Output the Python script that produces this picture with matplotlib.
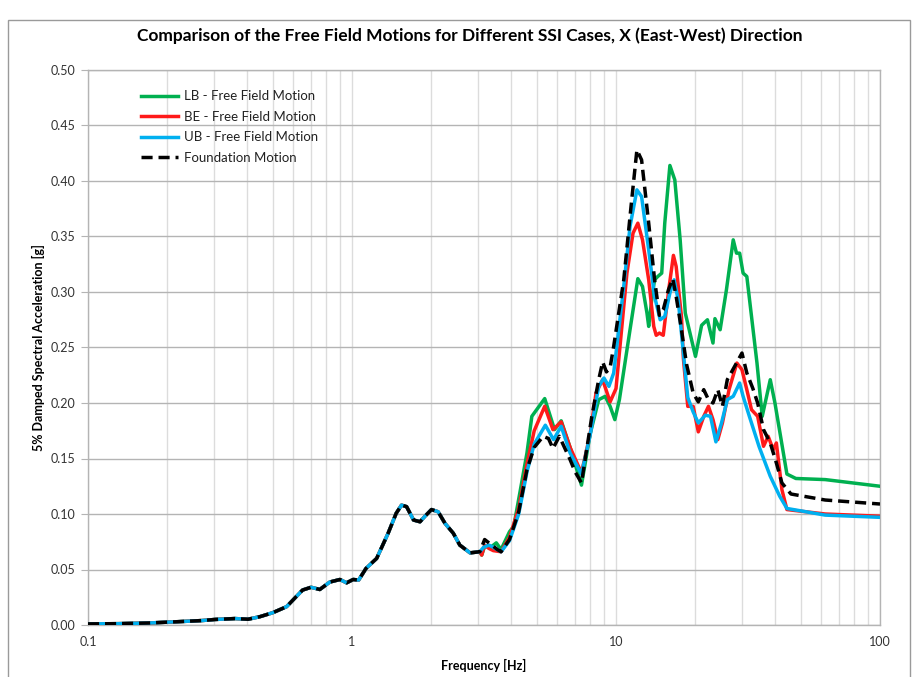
import numpy as np
import matplotlib
matplotlib.use("Agg")
import matplotlib.pyplot as plt
from matplotlib.patches import Rectangle
from matplotlib.ticker import FixedLocator, LogLocator, NullFormatter

plt.rcParams['font.family'] = ['Lato', 'DejaVu Sans']

# Response spectrum shared by all cases below ~3 Hz
freq_low = [0.1, 0.13, 0.17, 0.22, 0.27, 0.303, 0.36, 0.404, 0.448, 0.50, 0.565,
            0.65, 0.70, 0.755, 0.824, 0.90, 0.954, 1.01, 1.06, 1.13, 1.24, 1.37,
            1.47, 1.54, 1.61, 1.71, 1.81, 1.89, 2.0, 2.12, 2.25, 2.42, 2.56, 2.8]
sa_low = [0.001, 0.0012, 0.0018, 0.003, 0.004, 0.005, 0.0058, 0.0052, 0.0075, 0.011,
          0.0165, 0.0315, 0.034, 0.032, 0.0387, 0.041, 0.038, 0.041, 0.0405, 0.051,
          0.060, 0.0826, 0.1006, 0.108, 0.1066, 0.0946, 0.093, 0.098, 0.104, 0.102,
          0.0916, 0.0826, 0.072, 0.065]

# LB - Free Field Motion
freq_lb = [3.05, 3.1, 3.18, 3.35, 3.52, 3.67, 3.95, 4.1, 4.3, 4.6, 4.8, 5.37, 5.85,
           6.2, 6.7, 7.4, 7.98, 8.6, 9.1, 9.5, 9.9, 10.3, 11.3, 12.1, 12.6, 13.1,
           13.3, 13.7, 14.0, 14.4, 14.9, 15.3, 16.0, 16.7, 17.5, 18.3, 20.0, 21.1,
           22.2, 23.3, 23.7, 24.8, 26.2, 27.8, 28.6, 29.4, 30.3, 31.3, 34.2, 35.8,
           38.4, 40.0, 44.4, 48.0, 62.0, 100.0]
sa_lb = [0.066, 0.063, 0.071, 0.070, 0.074, 0.068, 0.084, 0.089, 0.116, 0.155, 0.188,
         0.204, 0.176, 0.184, 0.160, 0.126, 0.172, 0.203, 0.206, 0.197, 0.185, 0.203,
         0.266, 0.312, 0.305, 0.281, 0.269, 0.296, 0.311, 0.314, 0.317, 0.362, 0.414,
         0.401, 0.347, 0.281, 0.242, 0.270, 0.275, 0.254, 0.276, 0.266, 0.302, 0.347,
         0.335, 0.335, 0.317, 0.314, 0.236, 0.188, 0.221, 0.200, 0.136, 0.132, 0.131,
         0.125]

# BE - Free Field Motion
freq_be = [3.05, 3.1, 3.18, 3.3, 3.43, 3.67, 3.95, 4.28, 4.6, 4.9, 5.37, 5.77, 6.2,
           6.7, 7.4, 7.98, 8.4, 8.9, 9.5, 10.0, 11.0, 11.6, 12.1, 12.6, 13.3, 13.9,
           14.2, 14.6, 15.1, 15.9, 16.5, 16.9, 17.7, 18.0, 18.7, 19.6, 20.5, 21.5,
           22.4, 23.3, 24.3, 25.3, 26.8, 28.7, 30.0, 31.3, 32.6, 34.4, 36.2, 37.7,
           39.4, 40.5, 42.5, 44.4, 62.0, 100.0]
sa_be = [0.066, 0.063, 0.072, 0.069, 0.067, 0.066, 0.079, 0.105, 0.145, 0.175, 0.197,
         0.176, 0.183, 0.160, 0.137, 0.172, 0.209, 0.221, 0.201, 0.213, 0.317, 0.353,
         0.362, 0.347, 0.311, 0.269, 0.261, 0.263, 0.261, 0.305, 0.333, 0.323, 0.278,
         0.240, 0.197, 0.197, 0.174, 0.188, 0.197, 0.185, 0.167, 0.182, 0.212, 0.236,
         0.230, 0.212, 0.194, 0.188, 0.161, 0.170, 0.158, 0.164, 0.122, 0.104, 0.100,
         0.098]

# UB - Free Field Motion
freq_ub = [3.05, 3.15, 3.3, 3.43, 3.67, 3.95, 4.28, 4.6, 4.9, 5.4, 5.8, 6.2, 6.7,
           7.4, 7.98, 8.6, 9.0, 9.4, 9.8, 10.7, 11.3, 12.0, 12.5, 13.3, 14.0, 14.7,
           15.3, 16.0, 16.6, 17.2, 18.0, 18.7, 19.6, 20.5, 21.8, 22.8, 23.9, 25.1,
           26.4, 27.8, 29.4, 30.3, 32.0, 34.8, 38.4, 41.7, 44.4, 62.0, 100.0]
sa_ub = [0.066, 0.070, 0.072, 0.070, 0.066, 0.076, 0.100, 0.138, 0.163, 0.180, 0.167,
         0.179, 0.155, 0.136, 0.171, 0.215, 0.2225, 0.215, 0.227, 0.305, 0.359, 0.392,
         0.386, 0.338, 0.296, 0.275, 0.278, 0.299, 0.311, 0.293, 0.245, 0.205, 0.192,
         0.182, 0.189, 0.188, 0.165, 0.182, 0.203, 0.206, 0.218, 0.206, 0.188, 0.161,
         0.134, 0.116, 0.105, 0.099, 0.097]

# Foundation Motion
freq_fd = [3.05, 3.18, 3.3, 3.43, 3.55, 3.67, 3.95, 4.28, 4.6, 4.9, 5.3, 5.55, 5.77,
           6.1, 6.7, 7.0, 7.4, 8.1, 8.6, 8.9, 9.2, 9.5, 9.8, 10.7, 11.4, 12.0, 12.5,
           13.3, 14.0, 14.6, 15.1, 15.8, 16.4, 16.9, 17.7, 18.5, 19.6, 20.5, 21.5,
           22.4, 23.3, 24.3, 25.3, 26.4, 28.6, 30.0, 31.3, 33.0, 34.4, 36.2, 38.4,
           40.5, 42.5, 46.0, 62.0, 100.0]
sa_fd = [0.066, 0.077, 0.074, 0.071, 0.068, 0.066, 0.077, 0.102, 0.140, 0.160, 0.170,
         0.168, 0.159, 0.170, 0.149, 0.138, 0.128, 0.188, 0.221, 0.237, 0.228, 0.232,
         0.251, 0.311, 0.377, 0.428, 0.419, 0.362, 0.311, 0.279, 0.284, 0.302, 0.312,
         0.296, 0.266, 0.235, 0.209, 0.201, 0.212, 0.203, 0.200, 0.212, 0.197, 0.221,
         0.236, 0.245, 0.227, 0.213, 0.200, 0.176, 0.164, 0.146, 0.128, 0.118, 0.1126,
         0.109]

labels = ["LB - Free Field Motion", "BE - Free Field Motion",
          "UB - Free Field Motion", "Foundation Motion"]
y_ticks = [0.00, 0.05, 0.10, 0.15, 0.20, 0.25, 0.30, 0.35, 0.40, 0.45, 0.50]
x_ticks = [0.1, 1, 10, 100]
x_ticklabels = ["0.1", "1", "10", "100"]

W, H = 920, 677
fig = plt.figure(figsize=(W / 100, H / 100), dpi=100)
ax = fig.add_axes([88 / W, 1 - 625 / H, (880 - 88) / W, (625 - 70) / H])

# chart-area border
fig.patches.append(Rectangle((8 / W, -0.05), (910 - 8) / W, 1 - 20 / H + 0.05,
                             transform=fig.transFigure, fill=False,
                             edgecolor="#9a9a9a", linewidth=1.0))

lw = 2.5
ax.plot(freq_low + freq_lb, sa_low + sa_lb, color="#00b050", lw=lw,
        label=labels[0], zorder=3)
ax.plot(freq_low + freq_be, sa_low + sa_be, color="#ff1a1a", lw=lw,
        label=labels[1], zorder=4)
ax.plot(freq_low + freq_ub, sa_low + sa_ub, color="#00b0f0", lw=lw,
        label=labels[2], zorder=5)
ax.plot(freq_low + freq_fd, sa_low + sa_fd, color="black", lw=lw,
        linestyle=(0, (3.2, 1.7)), label=labels[3], zorder=6)

ax.set_xscale("log")
ax.set_xlim(0.1, 100)
ax.set_ylim(0, 0.5)
ax.xaxis.set_major_locator(FixedLocator(x_ticks))
ax.set_xticklabels(x_ticklabels)
ax.xaxis.set_minor_locator(LogLocator(base=10, subs=np.arange(2, 10)))
ax.xaxis.set_minor_formatter(NullFormatter())
ax.set_yticks(y_ticks)
ax.set_yticklabels([f"{v:.2f}" for v in y_ticks])

ax.grid(True, axis="y", which="major", color="#b4b4b4", lw=1.0, zorder=0)
ax.grid(True, axis="x", which="both", color="#dcdcdc", lw=1.0, zorder=0)
for s in ax.spines.values():
    s.set_color("#b4b4b4")
    s.set_linewidth(1.0)
ax.tick_params(axis="x", which="both", length=0, pad=8, labelsize=9,
               labelcolor="#333333")
ax.tick_params(axis="y", length=5, color="#b4b4b4", pad=4, labelsize=9,
               labelcolor="#333333")

ax.set_xlabel("Frequency [Hz]", fontsize=9, fontweight="bold", labelpad=8)
ax.set_ylabel("5% Damped Spectral Acceleration [g]", fontsize=9,
              fontweight="bold", labelpad=4)
fig.text(470 / W, 1 - 36 / H,
         "Comparison of the Free Field Motions for Different SSI Cases, X (East-West) Direction",
         ha="center", va="center", fontsize=12.5, fontweight="bold")

leg = ax.legend(loc="upper left", bbox_to_anchor=(136 / W, 1 - 85 / H),
                bbox_transform=fig.transFigure, frameon=False, fontsize=9.5,
                handlelength=2.8, handletextpad=0.4, labelspacing=0.64,
                borderaxespad=0)
for t in leg.get_texts():
    t.set_color("#222222")

fig.savefig("out.png", dpi=100)
